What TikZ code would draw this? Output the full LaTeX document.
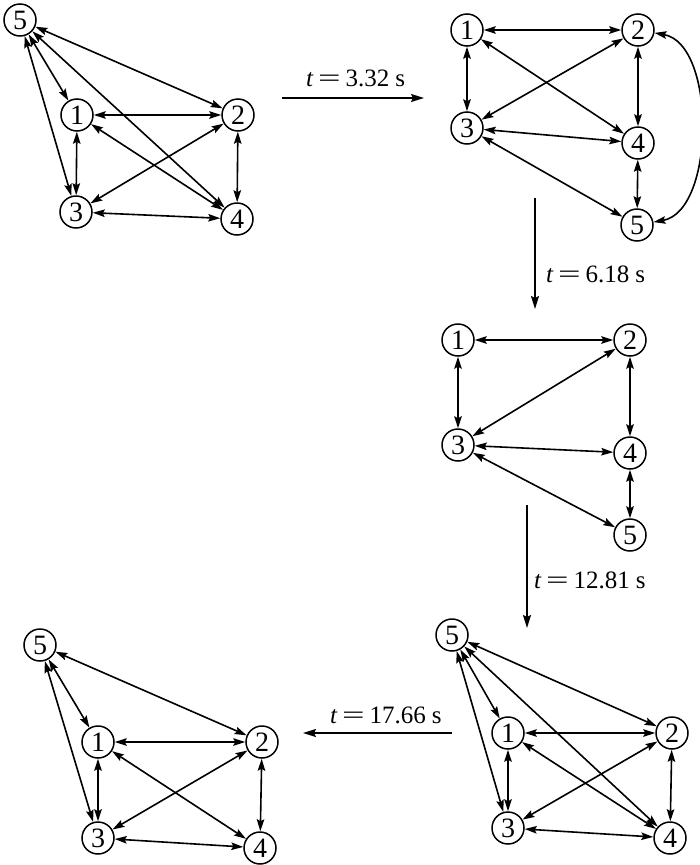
\documentclass[tikz,border=0pt]{standalone}
\usepackage{fontspec}
\usepackage{graphicx}
\setmainfont{Liberation Serif}
\usetikzlibrary{arrows.meta}
\newcommand{\tlab}[1]{{\itshape t}\hspace{5pt}\scalebox{1.6}[1]{=}\hspace{5pt}#1\hspace{6pt}s}
\begin{document}
\begin{tikzpicture}[x=1pt,y=-1pt,
  vtx/.style={circle,draw,line width=1.5pt,minimum size=32pt,inner sep=0pt,font=\fontsize{28}{28}\selectfont},
  edge/.style={line width=1.6pt,{Stealth[length=12pt,width=7.5pt,inset=2pt]}-{Stealth[length=12pt,width=7.5pt,inset=2pt]}},
  trans/.style={line width=1.6pt,-{Stealth[length=13pt,width=8pt,inset=2pt]}},
  lab/.style={font=\fontsize{25}{25}\selectfont,inner sep=0pt}]
\useasboundingbox (0,0) rectangle (700,865);
% Graph A
\node[vtx] (a5) at (20,20) {5};
\node[vtx] (a1) at (77,115) {1};
\node[vtx] (a2) at (238,115) {2};
\node[vtx] (a3) at (76,212) {3};
\node[vtx] (a4) at (237,219) {4};
\foreach \u/\v in {a5/a1,a5/a2,a5/a3,a5/a4,a1/a2,a1/a3,a1/a4,a2/a3,a2/a4,a3/a4}
  \draw[edge] (\u) -- (\v);
% transition 1
\coordinate (t1s) at (282,98);
\coordinate (t1e) at (424,98);
\draw[trans] (t1s) -- (t1e);
\node[lab,anchor=west] (l1) at (306,78) {\tlab{3.32}};
% Graph B
\node[vtx] (b1) at (467,30) {1};
\node[vtx] (b2) at (638,30) {2};
\node[vtx] (b3) at (467,128) {3};
\node[vtx] (b4) at (638,143) {4};
\node[vtx] (b5) at (637,225) {5};
\foreach \u/\v in {b1/b2,b1/b3,b1/b4,b2/b3,b2/b4,b3/b4,b3/b5,b4/b5}
  \draw[edge] (\u) -- (\v);
\draw[edge] (b2) to[out=-10,in=10,looseness=0.85] (b5);
% transition 2
\coordinate (t2s) at (535,198);
\coordinate (t2e) at (535,309);
\draw[trans] (t2s) -- (t2e);
\node[lab,anchor=west] (l2) at (546,274) {\tlab{6.18}};
% Graph C
\node[vtx] (c1) at (458,340) {1};
\node[vtx] (c2) at (630,340) {2};
\node[vtx] (c3) at (458,445) {3};
\node[vtx] (c4) at (630,453) {4};
\node[vtx] (c5) at (630,535) {5};
\foreach \u/\v in {c1/c2,c1/c3,c2/c3,c2/c4,c3/c4,c3/c5,c4/c5}
  \draw[edge] (\u) -- (\v);
% transition 3
\coordinate (t3s) at (527,505);
\coordinate (t3e) at (527,628);
\draw[trans] (t3s) -- (t3e);
\node[lab,anchor=west] (l3) at (534,580) {\tlab{12.81}};
% Graph D
\node[vtx] (d5) at (452,635) {5};
\node[vtx] (d1) at (508,733) {1};
\node[vtx] (d2) at (672,733) {2};
\node[vtx] (d3) at (508,828) {3};
\node[vtx] (d4) at (670,838) {4};
\foreach \u/\v in {d5/d1,d5/d2,d5/d3,d5/d4,d1/d2,d1/d3,d1/d4,d2/d3,d2/d4,d3/d4}
  \draw[edge] (\u) -- (\v);
% transition 4
\coordinate (t4s) at (452,733);
\coordinate (t4e) at (303,733);
\draw[trans] (t4s) -- (t4e);
\node[lab,anchor=west] (l4) at (330,715) {\tlab{17.66}};
% Graph E
\node[vtx] (e5) at (40,645) {5};
\node[vtx] (e1) at (98,742) {1};
\node[vtx] (e2) at (262,742) {2};
\node[vtx] (e3) at (98,838) {3};
\node[vtx] (e4) at (260,848) {4};
\foreach \u/\v in {e5/e1,e5/e2,e5/e3,e1/e2,e1/e3,e1/e4,e2/e3,e2/e4,e3/e4}
  \draw[edge] (\u) -- (\v);
\end{tikzpicture}
\end{document}
